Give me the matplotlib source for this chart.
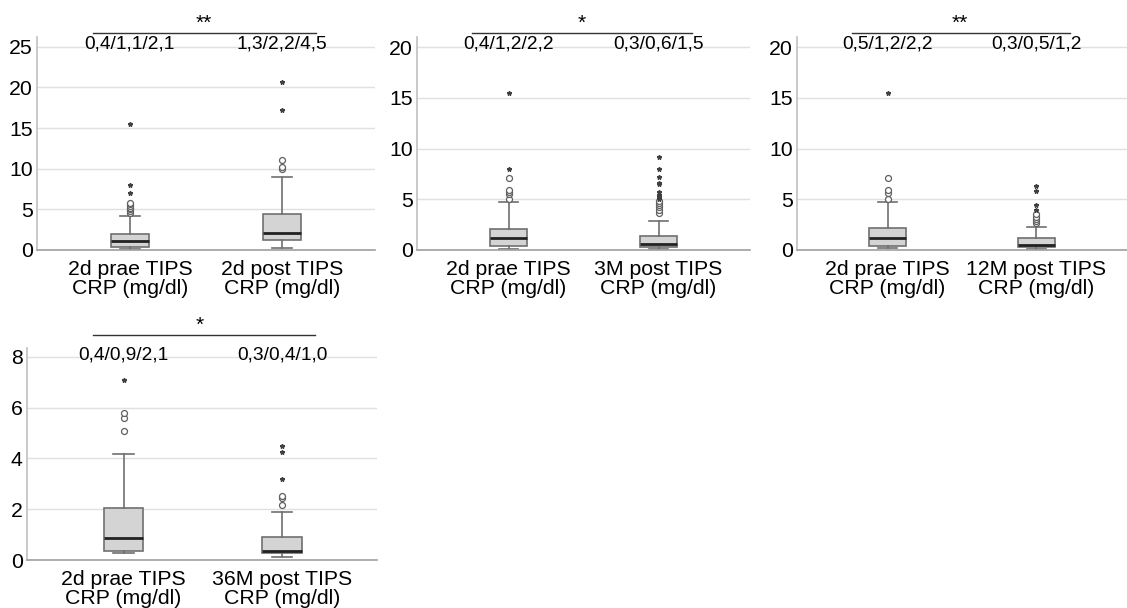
import matplotlib
matplotlib.use('Agg')
import matplotlib.pyplot as plt

plt.rcParams['font.family'] = ['Liberation Sans', 'DejaVu Sans']

# x tick labels per panel
xlabels = [
    ['2d prae TIPS\nCRP (mg/dl)', '2d post TIPS\nCRP (mg/dl)'],
    ['2d prae TIPS\nCRP (mg/dl)', '3M post TIPS\nCRP (mg/dl)'],
    ['2d prae TIPS\nCRP (mg/dl)', '12M post TIPS\nCRP (mg/dl)'],
    ['2d prae TIPS\nCRP (mg/dl)', '36M post TIPS\nCRP (mg/dl)'],
]
# box statistics
q1 = [[0.35, 1.25], [0.4, 0.27], [0.4, 0.33], [0.35, 0.29]]
med = [[1.15, 2.15], [1.15, 0.56], [1.15, 0.45], [0.88, 0.37]]
q3 = [[2.0, 4.4], [2.07, 1.41], [2.14, 1.15], [2.03, 0.92]]
whislo = [[0.12, 0.2], [0.07, 0.1], [0.23, 0.05], [0.29, 0.1]]
whishi = [[4.15, 8.95], [4.7, 2.89], [4.7, 2.24], [4.17, 1.9]]
circles = [
    [[4.5, 4.8, 5.0, 5.2, 5.4, 5.6, 5.8], [9.95, 10.25, 11.1]],
    [[5.0, 5.5, 5.7, 5.9, 7.06], [3.6, 3.9, 4.2, 4.4, 4.6, 4.8]],
    [[5.0, 5.65, 5.9, 7.06], [2.7, 2.9, 3.1, 3.3, 3.5]],
    [[5.08, 5.58, 5.8], [2.17, 2.43, 2.53]],
]
stars = [
    [[7.05, 8.0, 15.5], [17.25, 20.65]],
    [[7.98, 15.5], [5.0, 5.2, 5.45, 5.75, 6.5, 6.6, 7.16, 7.98, 9.13]],
    [[15.5], [3.9, 4.4, 5.85, 6.3]],
    [[7.09], [3.18, 4.26, 4.49]],
]
# Q1/median/Q3 annotations above the boxes
annot = [
    ['0,4/1,1/2,1', '1,3/2,2/4,5'],
    ['0,4/1,2/2,2', '0,3/0,6/1,5'],
    ['0,5/1,2/2,2', '0,3/0,5/1,2'],
    ['0,4/0,9/2,1', '0,3/0,4/1,0'],
]
signif = ['**', '*', '**', '*']
ymax = [26.2, 21.0, 21.0, 8.35]
ystep = [5, 5, 5, 2]

W, H = 1127, 608
rects = [
    (37, 37, 338, 213),
    (417, 37, 333, 213),
    (797, 37, 330, 213),
    (27, 348, 350, 212),
]

fig = plt.figure(figsize=(W / 100, H / 100), dpi=100)

box_fc = '#d4d4d4'
edge = '#707070'

for i, (x0, y0, w, h) in enumerate(rects):
    ax = fig.add_axes([x0 / W, 1 - (y0 + h) / H, w / W, h / H])
    stats = []
    for j in range(2):
        stats.append({
            'q1': q1[i][j], 'med': med[i][j], 'q3': q3[i][j],
            'whislo': whislo[i][j], 'whishi': whishi[i][j], 'fliers': [],
        })
    ax.bxp(stats, positions=[1, 2], widths=0.25, patch_artist=True,
           showfliers=False,
           boxprops={'facecolor': box_fc, 'edgecolor': edge, 'linewidth': 1.2},
           medianprops={'color': '#222222', 'linewidth': 2},
           whiskerprops={'color': edge, 'linewidth': 1.2},
           capprops={'color': edge, 'linewidth': 1.2},
           capwidths=0.13)
    for j in range(2):
        ax.plot([j + 1] * len(circles[i][j]), circles[i][j], 'o',
                mfc='white', mec='#606060', ms=4.3, mew=0.9, zorder=3)
        ax.plot([j + 1] * len(stars[i][j]), stars[i][j], '*',
                color='#404040', ms=3.3, zorder=3)
        ax.text(j + 1, 0.968, annot[i][j], transform=ax.get_xaxis_transform(),
                ha='center', va='center', fontsize=13.8)

    xlim = (0.39, 2.61) if i < 3 else (0.39, 2.6)
    ax.set_xlim(*xlim)
    ax.set_ylim(0, ymax[i])
    ticks = list(range(0, int(ymax[i]) + 1, ystep[i]))
    ax.set_yticks(ticks)
    ax.set_xticks([1, 2])
    ax.set_xticklabels(xlabels[i], linespacing=1.0)
    ax.tick_params(axis='both', length=0, labelsize=15.3)
    ax.tick_params(axis='x', pad=7)
    ax.tick_params(axis='y', pad=3)
    ax.yaxis.grid(True, color='#e0e0e0', linewidth=1)
    ax.set_axisbelow(True)
    for s in ['top', 'right']:
        ax.spines[s].set_visible(False)
    ax.spines['left'].set_color('#c0c0c0')
    ax.spines['bottom'].set_color('#a0a0a0')
    ax.spines['left'].set_linewidth(1.2)
    ax.spines['bottom'].set_linewidth(1.2)

    # significance bracket
    ly = 1.019 if i < 3 else 1.062
    sy = 1.065 if i < 3 else 1.105
    x1, x2 = (0.166, 0.826) if i < 3 else (0.189, 0.823)
    ax.plot([x1, x2], [ly, ly], color='#333333', lw=1,
            transform=ax.transAxes, clip_on=False)
    ax.text(0.494, sy, signif[i], transform=ax.transAxes, ha='center',
            va='center', fontsize=15)

fig.savefig('out.png', dpi=100)
